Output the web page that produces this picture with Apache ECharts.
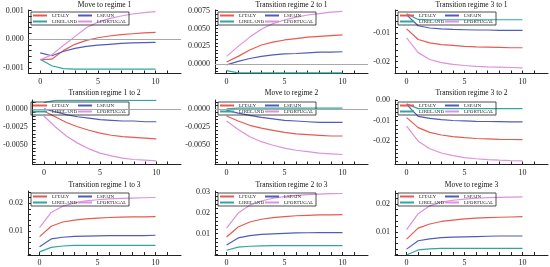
<!DOCTYPE html>
<html>
<head>
<meta charset="utf-8">
<script src="https://cdn.jsdelivr.net/npm/echarts@6/dist/echarts.min.js"></script>
<style>
  html, body { margin: 0; padding: 0; background: #fff; }
  #chart { width: 550px; height: 267px; }
</style>
</head>
<body>
<div id="chart"></div>
<script>
// horizon steps of the responses
const steps = [0, 1, 2, 3, 4, 5, 6, 7, 8, 9, 10];

const titles = [
  'Move to regime 1', 'Transition regime 2 to 1', 'Transition regime 3 to 1',
  'Transition regime 1 to 2', 'Move to regime 2', 'Transition regime 3 to 2',
  'Transition regime 1 to 3', 'Transition regime 2 to 3', 'Move to regime 3'
];

// one row per panel, values for steps 0..10
const italy = [
  [-0.00072, -0.00070, -0.00040, -0.00018, -0.00004, 0.00005, 0.00011, 0.00016, 0.00019, 0.00022, 0.00024],
  [0.0003, 0.0011, 0.0020, 0.0027, 0.0031, 0.0034, 0.0036, 0.0038, 0.0039, 0.0040, 0.0041],
  [-0.0086, -0.0123, -0.0135, -0.0141, -0.0144, -0.0147, -0.0149, -0.0150, -0.0151, -0.0152, -0.0152],
  [-0.0003, -0.0011, -0.0019, -0.0025, -0.0030, -0.0034, -0.0037, -0.0039, -0.0040, -0.0041, -0.0042],
  [-0.0010, -0.0017, -0.0023, -0.0027, -0.0030, -0.0033, -0.0035, -0.0036, -0.0037, -0.0038, -0.0038],
  [-0.0085, -0.0134, -0.0157, -0.0170, -0.0178, -0.0183, -0.0187, -0.0189, -0.0191, -0.0192, -0.0193],
  [0.0081, 0.0118, 0.0133, 0.0140, 0.0144, 0.0147, 0.0149, 0.0150, 0.0151, 0.0151, 0.0152],
  [0.0084, 0.0132, 0.0156, 0.0169, 0.0177, 0.0182, 0.0186, 0.0188, 0.0190, 0.0190, 0.0191],
  [0.0075, 0.0114, 0.0129, 0.0138, 0.0143, 0.0147, 0.0150, 0.0152, 0.0153, 0.0154, 0.0155]
];
const spain = [
  [-0.00048, -0.00058, -0.00043, -0.00032, -0.00025, -0.00021, -0.00018, -0.00015, -0.00013, -0.00012, -0.00011],
  [-0.0001, 0.0004, 0.0008, 0.0011, 0.0013, 0.00145, 0.0015, 0.0016, 0.0017, 0.0017, 0.00175],
  [-0.0037, -0.0075, -0.0083, -0.0086, -0.0088, -0.0089, -0.0090, -0.0090, -0.0091, -0.0091, -0.0091],
  [0.0000, -0.0004, -0.0008, -0.0011, -0.0013, -0.0015, -0.0016, -0.0017, -0.0017, -0.0018, -0.0018],
  [-0.0002, -0.0006, -0.0009, -0.0012, -0.0014, -0.0016, -0.0017, -0.0018, -0.0019, -0.0019, -0.0019],
  [-0.0020, -0.0079, -0.0089, -0.0095, -0.0099, -0.0101, -0.0103, -0.0104, -0.0105, -0.0106, -0.0106],
  [0.0045, 0.0073, 0.0079, 0.0082, 0.0083, 0.0084, 0.0085, 0.0085, 0.0085, 0.0085, 0.0086],
  [0.0045, 0.0079, 0.0090, 0.0096, 0.0099, 0.0101, 0.0103, 0.0104, 0.0105, 0.0105, 0.0105],
  [0.0039, 0.0069, 0.0076, 0.0080, 0.0082, 0.0083, 0.0084, 0.0085, 0.0086, 0.0086, 0.0086]
];
const ireland = [
  [-0.00070, -0.00093, -0.00103, -0.00105, -0.00105, -0.00105, -0.00105, -0.00105, -0.00105, -0.00105, -0.00105],
  [-0.0009, -0.0012, -0.0012, -0.0012, -0.0012, -0.0012, -0.0012, -0.0012, -0.0012, -0.0012, -0.0012],
  [-0.0033, -0.0053, -0.0054, -0.0054, -0.0054, -0.0054, -0.0054, -0.0054, -0.0054, -0.0054, -0.0054],
  [0.0009, 0.0012, 0.0012, 0.0012, 0.0012, 0.0012, 0.0012, 0.0012, 0.0012, 0.0012, 0.0012],
  [0.0000, 0.0001, 0.0001, 0.0001, 0.0001, 0.0001, 0.0001, 0.0001, 0.0001, 0.0001, 0.0001],
  [-0.0018, -0.0041, -0.0041, -0.0041, -0.0041, -0.0041, -0.0041, -0.0041, -0.0041, -0.0041, -0.0041],
  [0.0027, 0.0043, 0.0048, 0.0050, 0.0050, 0.0050, 0.0050, 0.0050, 0.0050, 0.0050, 0.0050],
  [0.0020, 0.0035, 0.0039, 0.0041, 0.0042, 0.0042, 0.0042, 0.0042, 0.0042, 0.0042, 0.0042],
  [0.0018, 0.0036, 0.0040, 0.0042, 0.0042, 0.0042, 0.0042, 0.0042, 0.0042, 0.0042, 0.0042]
];
const portugal = [
  [-0.00072, -0.00055, -0.00022, 0.00009, 0.00040, 0.00060, 0.00072, 0.00081, 0.00088, 0.00093, 0.00096],
  [0.0011, 0.0025, 0.0038, 0.0049, 0.0057, 0.0062, 0.0066, 0.0069, 0.0071, 0.0073, 0.0074],
  [-0.0117, -0.0169, -0.0193, -0.0204, -0.0210, -0.0214, -0.0217, -0.0219, -0.0220, -0.0221, -0.0222],
  [-0.0010, -0.0025, -0.0038, -0.0048, -0.0056, -0.0062, -0.0066, -0.0069, -0.0071, -0.0072, -0.0073],
  [-0.0017, -0.0029, -0.0039, -0.0046, -0.0051, -0.0055, -0.0058, -0.0060, -0.0062, -0.0063, -0.0064],
  [-0.0127, -0.0200, -0.0237, -0.0258, -0.0271, -0.0280, -0.0286, -0.0290, -0.0293, -0.0295, -0.0296],
  [0.0113, 0.0167, 0.0189, 0.0201, 0.0208, 0.0212, 0.0215, 0.0217, 0.0218, 0.0219, 0.0220],
  [0.0126, 0.0199, 0.0237, 0.0257, 0.0270, 0.0278, 0.0284, 0.0288, 0.0290, 0.0292, 0.0293],
  [0.0109, 0.0166, 0.0194, 0.0207, 0.0214, 0.0218, 0.0221, 0.0223, 0.0224, 0.0225, 0.0226]
];

// y axis ranges and labelled ticks per panel
const yMin = [-0.0012, -0.0013, -0.0242, -0.0078, -0.0078, -0.0314, 0.0016, -0.0003, 0.0018];
const yMax = [0.00102, 0.0076, -0.002, 0.00125, 0.00125, 0.0001, 0.0243, 0.0305, 0.0247];
const yLabels = [
  [-0.001, 0, 0.001],
  [0, 0.0025, 0.005, 0.0075],
  [-0.02, -0.01],
  [-0.005, -0.0025, 0],
  [-0.005, -0.0025, 0],
  [-0.02, -0.01, 0],
  [0.01, 0.02],
  [0.01, 0.02, 0.03],
  [0.01, 0.02]
];
const yDecimals = [3, 4, 2, 4, 4, 2, 2, 2, 2];
const yMinorStep = [0.0002, 0.0005, 0.002, 0.0005, 0.0005, 0.002, 0.002, 0.002, 0.002];
const zeroLine = [true, true, false, true, true, false, false, false, false];

const xLabels = [0, 5, 10];
const xTicks = [0, 1, 2, 3, 4, 5, 6, 7, 8, 9, 10, 11];

const countries = ['LITALY', 'LSPAIN', 'LIRELAND', 'LPORTUGAL'];
const colors = ['#e65a50', '#4f5db8', '#2fa7a0', '#dc92dc'];

// layout
const colLeft = [28, 215, 395];
const plotW = 153;
const rowTop = [10, 100, 191];
const rowH = [63.5, 64.5, 65];
const titleTop = [1, 89, 181];
const FONT = 'Liberation Serif';

function minorTicks(min, max, step) {
  const out = [];
  for (let k = Math.ceil(min / step - 1e-9); k * step <= max + 1e-12; k++) {
    out.push(+(k * step).toFixed(6));
  }
  return out;
}

const chart = echarts.init(document.getElementById('chart'));

const grid = [], xAxis = [], yAxis = [], series = [], title = [], legend = [];

for (let i = 0; i < 9; i++) {
  const r = Math.floor(i / 3), c = i % 3;
  grid.push({ left: colLeft[c], top: rowTop[r], width: plotW, height: rowH[r] });

  title.push({
    text: titles[i],
    left: colLeft[c] + plotW / 2,
    top: titleTop[r],
    textAlign: 'center',
    padding: 0,
    textStyle: { fontFamily: FONT, fontSize: 7.5, fontWeight: 'normal', color: '#111' }
  });

  legend.push({
    left: colLeft[c] + 3,
    top: rowTop[r] + 2,
    width: 96,
    orient: 'horizontal',
    itemGap: 1,
    itemWidth: 14,
    itemHeight: 2,
    padding: [1, 2],
    borderColor: '#222',
    borderWidth: 0.8,
    icon: 'rect',
    selectedMode: false,
    textStyle: { fontFamily: FONT, fontSize: 5, lineHeight: 5, color: '#222' },
    data: [
      { name: 'LITALY', textStyle: { width: 25 } },
      { name: 'LSPAIN', textStyle: { width: 30 } },
      { name: 'LIRELAND', textStyle: { width: 25 } },
      { name: 'LPORTUGAL', textStyle: { width: 30 } }
    ]
  });

  xAxis.push({
    type: 'value', gridIndex: i, min: -1, max: 12.2,
    axisLine: { onZero: false, lineStyle: { color: '#222', width: 1 } },
    axisTick: { inside: true, length: 3, customValues: xTicks, lineStyle: { color: '#222' } },
    axisLabel: { customValues: xLabels, fontFamily: FONT, fontSize: 8, color: '#222', margin: 4 },
    splitLine: { show: false }
  });

  const dec = yDecimals[i];
  yAxis.push({
    type: 'value', gridIndex: i, min: yMin[i], max: yMax[i],
    axisLine: { show: true, onZero: false, lineStyle: { color: '#222', width: 1 } },
    axisTick: { inside: true, length: 3, customValues: minorTicks(yMin[i], yMax[i], yMinorStep[i]), lineStyle: { color: '#222' } },
    axisLabel: {
      customValues: yLabels[i], fontFamily: FONT, fontSize: 8, color: '#222', margin: 5,
      formatter: v => (Math.abs(v) < 1e-12 ? 0 : v).toFixed(dec)
    },
    splitLine: { show: false }
  });

  [italy, spain, ireland, portugal].forEach((arr, s) => {
    const ser = {
      name: countries[s],
      type: 'line',
      xAxisIndex: i,
      yAxisIndex: i,
      data: steps.map((t, k) => [t, arr[i][k]]),
      symbol: 'none',
      color: colors[s],
      lineStyle: { width: 1.2, color: colors[s] },
      z: 3,
      animation: false
    };
    if (s === 0 && zeroLine[i]) {
      ser.markLine = {
        silent: true, symbol: 'none', label: { show: false },
        lineStyle: { color: '#a8a8a8', width: 1, type: 'solid' },
        data: [{ yAxis: 0 }],
        animation: false
      };
    }
    series.push(ser);
  });
}

chart.setOption({
  animation: false,
  backgroundColor: '#fff',
  title, legend, grid, xAxis, yAxis, series
});
</script>
</body>
</html>
